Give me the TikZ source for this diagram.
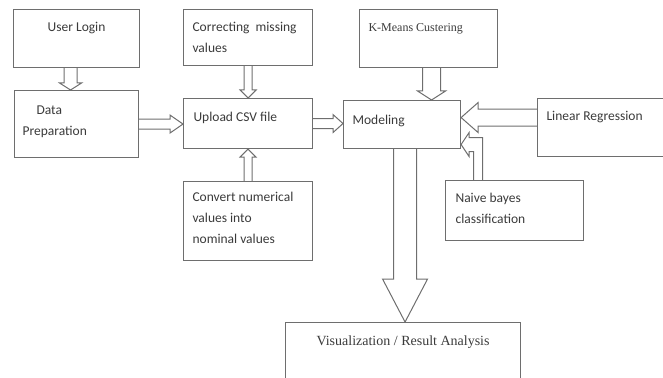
\documentclass[tikz,border=0pt]{standalone}
\usepackage{fontspec}
\setmainfont{Carlito}
\newfontfamily\timesfont{Liberation Serif}
\usetikzlibrary{calc}
\definecolor{linegray}{HTML}{6E6E6E}
\definecolor{textgray}{HTML}{3A3A3A}
% text block at the top of a box
\newcommand{\boxtxt}[3]{\parbox[t][#2][t]{#1}{\vspace*{2pt}#3}}
% hollow block arrow: start, tip, shaft half width, head half width, head length, name
\newcommand{\hollowarrow}[6]{%
	\coordinate (#6) at ($(#2)!#5!(#1)$);
	\draw[arrowline] ($(#1)!#3!90:(#2)$) -- ($(#6)!#3!90:(#2)$) --
	($(#6)!#4!90:(#2)$) -- (#2) -- ($(#6)!#4!-90:(#2)$) --
	($(#6)!#3!-90:(#2)$) -- ($(#1)!#3!-90:(#2)$);}

\begin{document}
\begin{tikzpicture}[x=1pt,y=-1pt,
	box/.style={draw=linegray, line width=1.1pt, anchor=north west, inner xsep=0pt,
		text=textgray, font=\fontsize{13.5}{21}\selectfont},
	arrowline/.style={draw=linegray, line width=1pt, line join=miter}]
	\useasboundingbox (0,0) rectangle (663,377);
	\clip (0,0) rectangle (663,377);
%		boxes
	\node[box, inner ysep=11pt] (login) at (13,9)
	{\boxtxt{126pt}{36pt}{\centering User Login}};
	\node[box, inner xsep=8pt, inner ysep=13pt] (prep) at (14,90)
	{\boxtxt{108pt}{41pt}{\hspace*{14pt}Data\\Preparation}};
	\node[box, inner xsep=9pt, inner ysep=11pt] (correct) at (183,9)
	{\boxtxt{111pt}{34pt}{Correcting\ \ missing\\values}};
	\node[box, inner xsep=10pt, inner ysep=12pt] (upload) at (183,98)
	{\boxtxt{109pt}{26pt}{Upload CSV file}};
	\node[box, inner xsep=9pt, inner ysep=9pt] (convert) at (183,181)
	{\boxtxt{111pt}{61pt}{Convert numerical\\values into\\nominal values}};
	\node[box, inner xsep=9pt, inner ysep=13pt] (model) at (343,100)
	{\boxtxt{99pt}{22pt}{Modeling}};
	\node[box, inner xsep=9pt, inner ysep=12pt] (kmeans) at (359,9)
	{\boxtxt{120pt}{34pt}{\timesfont\fontsize{12}{14}\selectfont K-Means Custering}};
	\node[box, inner xsep=9pt, inner ysep=11pt] (linreg) at (537,98)
	{\boxtxt{112pt}{36pt}{Linear Regression}};
	\node[box, inner xsep=10pt, inner ysep=11pt] (naive) at (445,180)
	{\boxtxt{118pt}{38pt}{Naive bayes\\classification}};
	\node[box, inner ysep=11pt] (visual) at (285,322)
	{\boxtxt{235pt}{48pt}{\centering\timesfont\fontsize{14}{16}\selectfont Visualization / Result Analysis}};
%		arrows
	\coordinate (lg) at ([xshift=-6pt]login.south);
	\hollowarrow{lg}{lg |- prep.north}{6.5pt}{11pt}{7pt}{h1}
	\hollowarrow{prep.east}{prep.east -| upload.west}{5pt}{9pt}{13pt}{h2}
	\hollowarrow{correct.south}{correct.south |- upload.north}{4pt}{8pt}{8pt}{h3}
	\hollowarrow{convert.north}{convert.north |- upload.south}{4pt}{8pt}{8pt}{h4}
	\hollowarrow{upload.east}{upload.east -| model.west}{5pt}{9pt}{10pt}{h5}
	\coordinate (km) at ([xshift=3pt]kmeans.south);
	\hollowarrow{km}{km |- model.north}{9pt}{14pt}{9pt}{h6}
	\coordinate (lr) at ([yshift=10pt]linreg.west);
	\hollowarrow{lr}{lr -| model.east}{8.5pt}{15pt}{17pt}{h7}
	\coordinate (vz) at ([xshift=3pt]model.south);
	\hollowarrow{vz}{vz |- visual.north}{11.5pt}{22.5pt}{43pt}{h8}
%		bent arrow from naive bayes
	\coordinate (nt) at ([yshift=-20pt]model.east);
	\draw[arrowline] ([xshift=-32pt]naive.north) |- ($(nt)+(8,-7)$) --
	($(nt)+(8,-12)$) -- (nt) -- ($(nt)+(8,12)$) -- ($(nt)+(8,7)$)
	-| ([xshift=-41pt]naive.north);
\end{tikzpicture}
\end{document}
